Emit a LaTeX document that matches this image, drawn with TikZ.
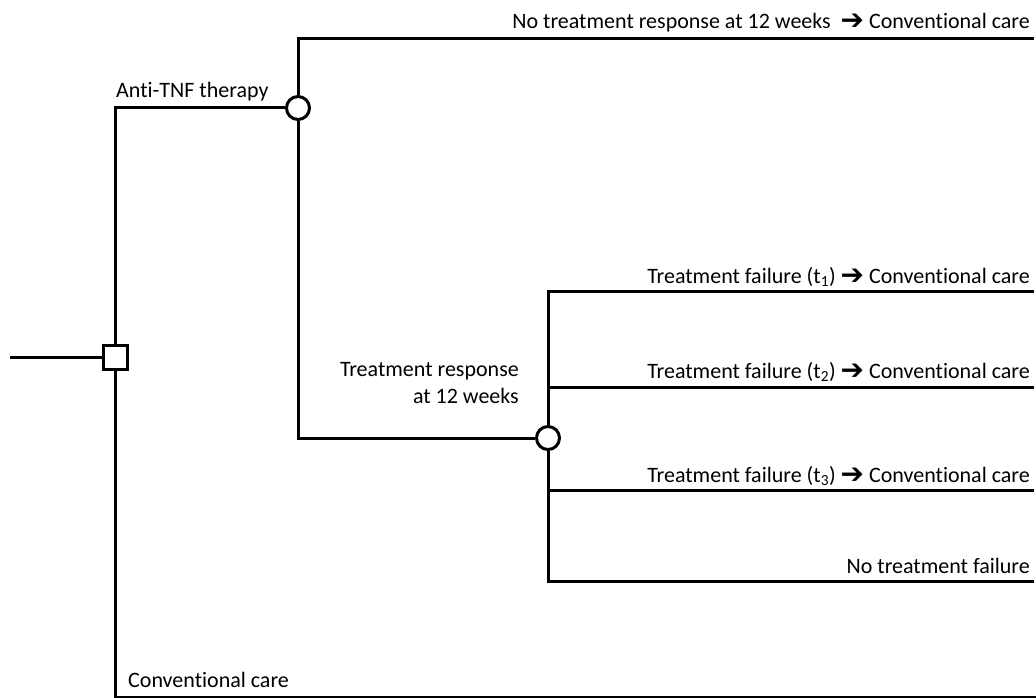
\documentclass[tikz,border=0pt]{standalone}
\usepackage{fontspec}
\setmainfont{Carlito}[Ligatures=NoCommon]
\newfontfamily\arrowfont{DejaVu Sans}
\begin{document}
\begin{tikzpicture}[x=1pt,y=-1pt,
  branch/.style={line width=3pt},
  decisionbox/.style={draw,line width=3pt,rectangle,minimum size=24pt,inner sep=0pt,fill=white},
  chance/.style={draw,line width=3pt,circle,minimum size=23pt,inner sep=0pt,fill=white},
  lbl/.style={inner sep=0pt,font=\fontsize{22}{27}\selectfont},
]
\useasboundingbox (0,0) rectangle (1036,698);
\newcommand{\arr}{{\arrowfont\bfseries\fontsize{28}{28}\selectfont\raisebox{-1pt}{➔}}}

% tree nodes
\node[decisionbox] (dec) at (115.5,357.5) {};
\node[chance] (anti) at (298,108) {};
\node[chance] (resp) at (548,438) {};

% free ends of the branches
\coordinate (root) at (10,357.5);
\coordinate (endNR) at (1034,39);
\coordinate (endF1) at (1034,291);
\coordinate (endF2) at (1034,387);
\coordinate (endF3) at (1034,490);
\coordinate (endNF) at (1034,581);
\coordinate (endCC) at (1036,697);

% branches
\draw[branch] (root) -- (dec.west);
\draw[branch] (dec.north) |- (anti.west);
\draw[branch] (dec.south) |- (endCC);
\draw[branch] (anti.north) |- (endNR);
\draw[branch] (anti.south) |- (resp.west);
\draw[branch] (resp.north) |- (endF1);
\draw[branch] (resp.north) |- (endF2);
\draw[branch] (resp.south) |- (endF3);
\draw[branch] (resp.south) |- (endNF);

% branch labels
\node[lbl,anchor=base west] (tAnti) at (116,98) {Anti-TNF therapy};
\node[lbl,anchor=base east] (tNR) at (1030,29) {No treatment response at 12 weeks\ \ \arr\ Conventional care};
\node[lbl,anchor=base east] (tF1) at (1030,283) {Treatment failure (t\textsubscript{1}) \arr\ Conventional care};
\node[lbl,anchor=base east] (tF2) at (1030,378) {Treatment failure (t\textsubscript{2}) \arr\ Conventional care};
\node[lbl,anchor=base east] (tF3) at (1030,482) {Treatment failure (t\textsubscript{3}) \arr\ Conventional care};
\node[lbl,anchor=base east] (tNF) at (1030,573) {No treatment failure};
\node[lbl,anchor=base east,align=right] (tResp) at (519,403) {Treatment response\\at 12 weeks};
\node[lbl,anchor=base west] (tCC) at (128,687) {Conventional care};
\end{tikzpicture}
\end{document}
